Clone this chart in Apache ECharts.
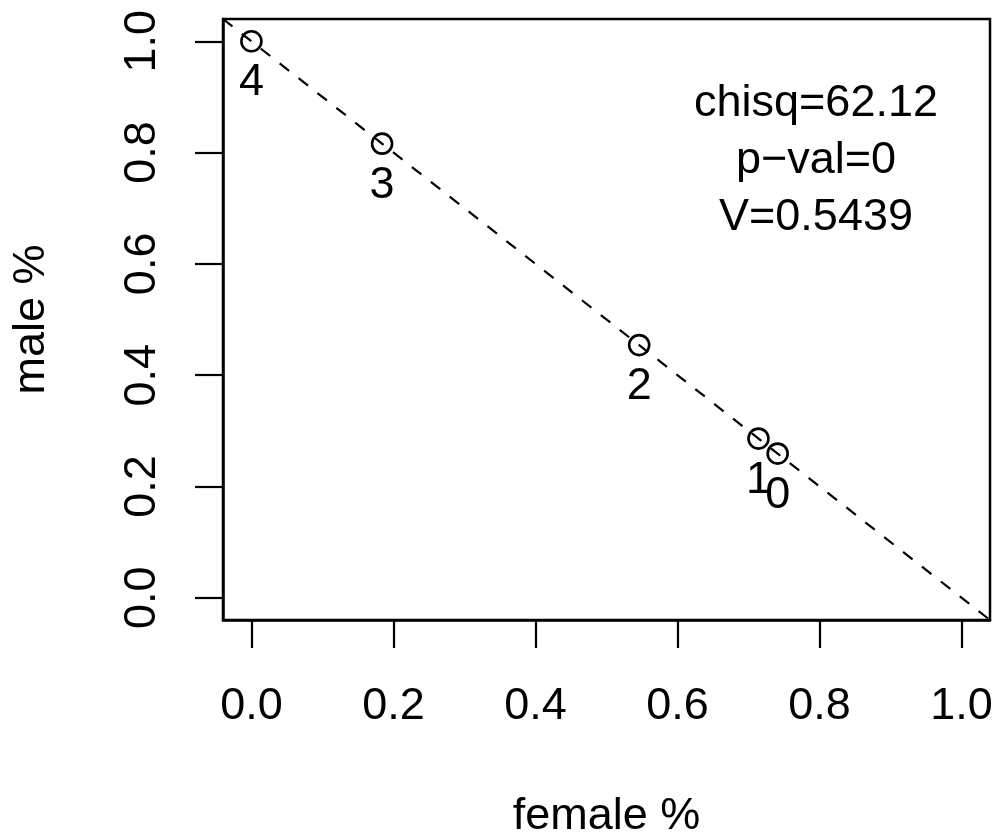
<!DOCTYPE html>
<html>
<head>
<meta charset="utf-8">
<script src="https://cdn.jsdelivr.net/npm/echarts@6/dist/echarts.min.js"></script>
<style>
  html, body { margin: 0; padding: 0; background: #fff; }
  #main { width: 1001px; height: 840px; }
</style>
</head>
<body>
<div id="main"></div>
<script>
// point labels and their coordinates
var groups = ['0', '1', '2', '3', '4'];
var femalePct = [0.741, 0.714, 0.546, 0.184, 0.0];
var malePct = [0.259, 0.286, 0.454, 0.816, 1.0];
// reference line y = 1 - x, over the full plot range
var refLineX = [-0.04, 1.04];
var refLineY = [1.04, -0.04];
// tick labels
var tickValues = [0, 0.2, 0.4, 0.6, 0.8, 1.0];
// annotation
var statsText = ['chisq=62.12', 'p\u2212val=0', 'V=0.5439'];
var statsPos = [0.795, 0.785];

var font = '"Liberation Sans", Arial, Helvetica, sans-serif';

var pts = [];
for (var i = 0; i < groups.length; i++) {
    pts.push({ value: [femalePct[i], malePct[i]], name: groups[i] });
}
var linePts = [];
for (var k = 0; k < refLineX.length; k++) {
    linePts.push([refLineX[k], refLineY[k]]);
}

function axisCfg(name, gap, labelMargin, rot) {
    return {
        type: 'value', min: -0.04, max: 1.04,
        name: name, nameLocation: 'middle', nameGap: gap, nameRotate: rot,
        nameTextStyle: { fontSize: 45, color: '#000', fontFamily: font },
        axisLine: { show: true, onZero: false, lineStyle: { color: '#000', width: 2.5 } },
        splitLine: { show: false },
        axisTick: { show: true, inside: false, length: 28, customValues: tickValues,
            lineStyle: { color: '#000', width: 2.2 } },
        axisLabel: { show: true, customValues: tickValues, margin: labelMargin, rotate: rot,
            fontSize: 45, color: '#000', fontFamily: font,
            formatter: function (v) { return v.toFixed(1); } }
    };
}

var chart = echarts.init(document.getElementById('main'), null, { renderer: 'canvas' });
chart.setOption({
    animation: false,
    backgroundColor: '#fff',
    textStyle: { fontFamily: font },
    grid: {
        left: 223, top: 19, right: 11, bottom: 220,
        containLabel: false, outerBoundsMode: 'none',
        show: true, borderColor: '#000', borderWidth: 2.5,
        backgroundColor: 'transparent'
    },
    xAxis: axisCfg('female %', 174, 64, 0),
    yAxis: axisCfg('male %', 169, 58, 90),
    series: [
        {
            type: 'line',
            data: linePts,
            symbol: 'none',
            silent: true,
            lineStyle: { color: '#000', width: 2.2, type: [12, 12] },
            z: 2
        },
        {
            type: 'scatter',
            data: pts,
            symbol: 'circle',
            symbolSize: 20,
            itemStyle: { color: 'rgba(0,0,0,0)', borderColor: '#000', borderWidth: 2.6, opacity: 1 },
            label: {
                show: true, position: 'bottom', distance: 8,
                formatter: function (p) { return p.name; },
                fontSize: 45, color: '#000', fontFamily: font
            },
            z: 3
        },
        {
            type: 'scatter',
            data: [statsPos],
            symbolSize: 0,
            silent: true,
            itemStyle: { opacity: 1 },
            label: {
                show: true, position: 'inside',
                formatter: statsText.join('\n'),
                fontSize: 45, lineHeight: 57, color: '#000', fontFamily: font, align: 'center'
            },
            z: 4
        }
    ]
});
</script>
</body>
</html>
